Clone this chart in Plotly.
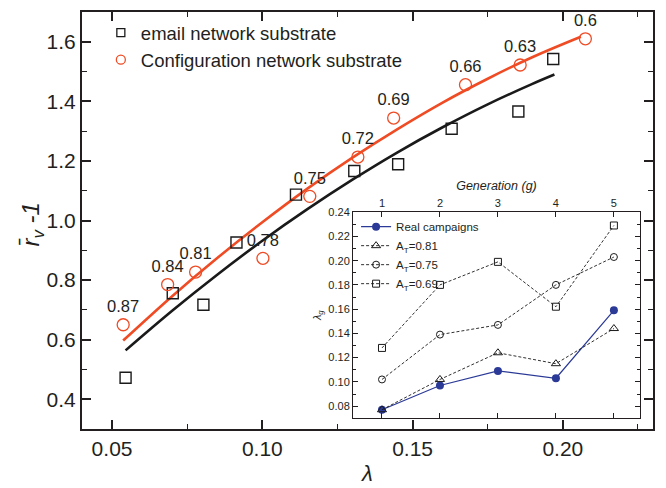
import plotly.graph_objects as go

# ---------------- main panel data ----------------
email_x = [0.0545, 0.0702, 0.0804, 0.0914, 0.1112, 0.1306, 0.1452, 0.1630, 0.1852, 0.1968]
email_y = [0.472, 0.756, 0.717, 0.926, 1.087, 1.166, 1.189, 1.308, 1.366, 1.542]

config_x = [0.0537, 0.0685, 0.0778, 0.1002, 0.1158, 0.1318, 0.1437, 0.1676, 0.1858, 0.2075]
config_y = [0.650, 0.785, 0.827, 0.873, 1.081, 1.213, 1.344, 1.456, 1.522, 1.610]
config_labels = ["0.87", "0.84", "0.81", "0.78", "0.75", "0.72", "0.69", "0.66", "0.63", "0.6"]

fit_config_x = [0.0537, 0.070, 0.085, 0.100, 0.115, 0.130, 0.145, 0.160, 0.175, 0.190, 0.206]
fit_config_y = [0.597, 0.746, 0.874, 0.994, 1.107, 1.211, 1.307, 1.396, 1.476, 1.549, 1.617]

fit_email_x = [0.0545, 0.070, 0.085, 0.100, 0.115, 0.130, 0.145, 0.160, 0.175, 0.1895, 0.1972]
fit_email_y = [0.564, 0.697, 0.818, 0.932, 1.038, 1.137, 1.229, 1.313, 1.390, 1.457, 1.490]

# ---------------- inset data ----------------
generations = [1, 2, 3, 4, 5]
real_campaigns = [0.077, 0.097, 0.109, 0.103, 0.159]
at_081 = [0.077, 0.102, 0.124, 0.115, 0.144]
at_075 = [0.102, 0.139, 0.147, 0.180, 0.203]
at_069 = [0.128, 0.180, 0.199, 0.162, 0.229]

RED = "#EF4B24"
BLACK = "#1a1a1a"
BLUE = "#2B3A97"
FONT = "Liberation Sans, Arial, sans-serif"

fig = go.Figure()

# fit curves
fig.add_trace(go.Scatter(x=fit_email_x, y=fit_email_y, mode="lines",
                         line=dict(color=BLACK, width=2.6, shape="spline"),
                         showlegend=False, hoverinfo="skip"))
fig.add_trace(go.Scatter(x=fit_config_x, y=fit_config_y, mode="lines",
                         line=dict(color=RED, width=2.6, shape="spline"),
                         showlegend=False, hoverinfo="skip"))

# data points
fig.add_trace(go.Scatter(x=email_x, y=email_y, mode="markers",
                         marker=dict(symbol="square-open", size=11, color=BLACK,
                                     line=dict(width=1.4, color=BLACK)),
                         showlegend=False))
fig.add_trace(go.Scatter(x=config_x, y=config_y, mode="markers+text",
                         text=config_labels, textposition="top center",
                         textfont=dict(family=FONT, size=16.5, color="#231f20"),
                         marker=dict(symbol="circle-open", size=12, color=RED,
                                     line=dict(width=1.3, color=RED)),
                         showlegend=False))

# legend entries for main panel
fig.add_trace(go.Scatter(x=[None], y=[None], mode="markers", name="email network substrate",
                         marker=dict(symbol="square-open", size=8, color=BLACK,
                                     line=dict(width=1.3, color=BLACK)),
                         legend="legend"))
fig.add_trace(go.Scatter(x=[None], y=[None], mode="markers", name="Configuration network substrate",
                         marker=dict(symbol="circle-open", size=9, color=RED,
                                     line=dict(width=1.3, color=RED)),
                         legend="legend"))

# inset traces
fig.add_trace(go.Scatter(x=generations, y=real_campaigns, mode="lines+markers",
                         name="Real campaigns", xaxis="x2", yaxis="y2",
                         line=dict(color=BLUE, width=1.2),
                         marker=dict(symbol="circle", size=8, color=BLUE),
                         legend="legend2"))
fig.add_trace(go.Scatter(x=generations, y=at_081, mode="lines+markers",
                         name="A<sub>T</sub>=0.81", xaxis="x2", yaxis="y2",
                         line=dict(color=BLACK, width=0.9, dash="3px,2px"),
                         marker=dict(symbol="triangle-up-open", size=8, color=BLACK,
                                     line=dict(width=1, color=BLACK)),
                         legend="legend2"))
fig.add_trace(go.Scatter(x=generations, y=at_075, mode="lines+markers",
                         name="A<sub>T</sub>=0.75", xaxis="x2", yaxis="y2",
                         line=dict(color=BLACK, width=0.9, dash="3px,2px"),
                         marker=dict(symbol="circle-open", size=7, color=BLACK,
                                     line=dict(width=1, color=BLACK)),
                         legend="legend2"))
fig.add_trace(go.Scatter(x=generations, y=at_069, mode="lines+markers",
                         name="A<sub>T</sub>=0.69", xaxis="x2", yaxis="y2",
                         line=dict(color=BLACK, width=0.9, dash="3px,2px"),
                         marker=dict(symbol="square-open", size=7, color=BLACK,
                                     line=dict(width=1, color=BLACK)),
                         legend="legend2"))

axis_common = dict(showline=True, linecolor="#231f20", mirror="allticks",
                   ticks="inside", showgrid=False, zeroline=False)

fig.update_layout(
    width=666, height=488,
    margin=dict(l=82, r=13, t=6, b=55),
    paper_bgcolor="white", plot_bgcolor="white",
    font=dict(family=FONT, color="#231f20"),
    xaxis=dict(**axis_common, range=[0.04, 0.23], tick0=0, dtick=0.05, tickformat=".2f",
               linewidth=2, ticklen=9, tickwidth=1.5, tickcolor="#231f20",
               tickfont=dict(size=21, family=FONT),
               minor=dict(ticks="inside", dtick=0.025, ticklen=5, tickwidth=1.3, tickcolor="#231f20"),
               title=dict(text="<i>λ</i>", font=dict(size=22, family=FONT), standoff=6)),
    yaxis=dict(**axis_common, range=[0.3, 1.7], tick0=0, dtick=0.2, tickformat=".1f",
               linewidth=2, ticklen=9, tickwidth=1.5, tickcolor="#231f20",
               tickfont=dict(size=21, family=FONT),
               minor=dict(ticks="inside", dtick=0.1, ticklen=5, tickwidth=1.3, tickcolor="#231f20")),
    xaxis2=dict(**axis_common, domain=[0.4746, 0.9772], anchor="y2", side="top",
                range=[0.5, 5.45], tickvals=generations, linewidth=1, ticklen=5, tickwidth=1,
                tickcolor="#231f20", tickfont=dict(size=11, family=FONT),
                title=dict(text="<i>Generation (g)</i>", font=dict(size=12.5, family=FONT), standoff=3)),
    yaxis2=dict(**axis_common, domain=[0.0258, 0.52], anchor="x2",
                range=[0.07, 0.24], tick0=0, dtick=0.02, tickformat=".2f",
                linewidth=1, ticklen=5, tickwidth=1, tickcolor="#231f20",
                tickfont=dict(size=11, family=FONT),
                minor=dict(ticks="inside", dtick=0.01, ticklen=3, tickwidth=1, tickcolor="#231f20"),
                title=dict(text="<i>λ<sub>g</sub></i>", font=dict(size=11, family=FONT), standoff=4)),
    legend=dict(x=0.033, y=0.995, xanchor="left", yanchor="top",
                bgcolor="rgba(0,0,0,0)", font=dict(size=18.5, family=FONT, color="#231f20"),
                itemwidth=30, tracegroupgap=0),
    legend2=dict(x=0.48, y=0.52, xanchor="left", yanchor="top",
                 bgcolor="rgba(0,0,0,0)", font=dict(size=11.5, family=FONT, color="#231f20"),
                 itemwidth=30, tracegroupgap=0),
    annotations=[dict(text="<i>r\u0304<sub>v</sub> -1</i>", xref="paper", yref="paper",
                      x=-0.086, y=0.49, xanchor="center", yanchor="middle", textangle=-90,
                      showarrow=False, font=dict(size=24, family=FONT, color="#231f20"))],
)

fig.write_html("out.html")
